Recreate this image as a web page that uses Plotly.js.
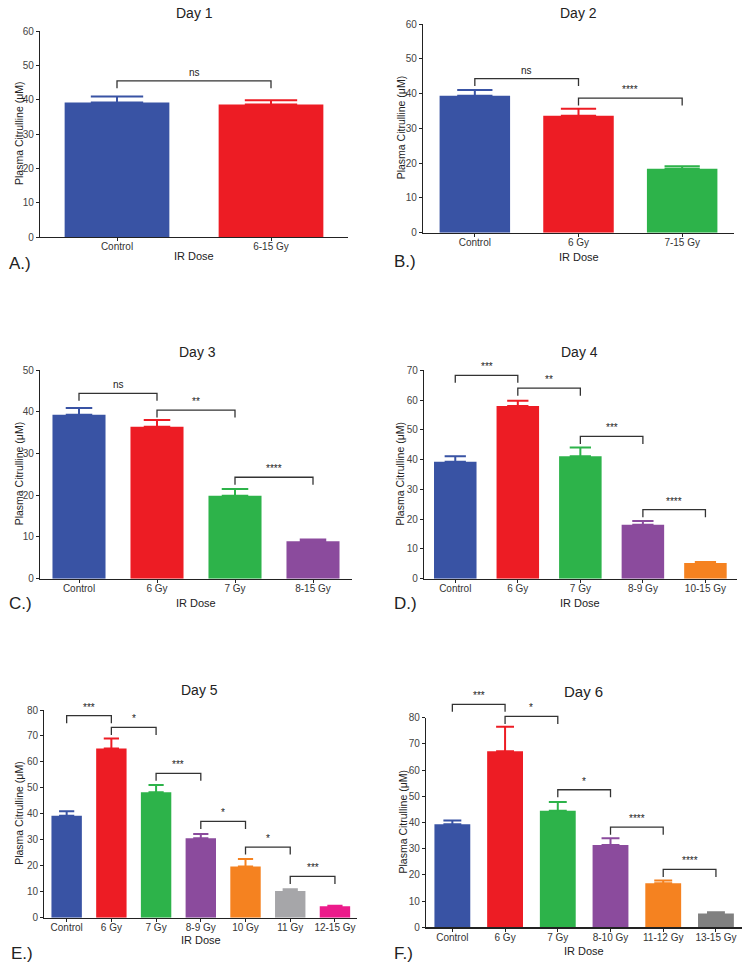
<!DOCTYPE html>
<html>
<head>
<meta charset="utf-8">
<script src="https://cdn.plot.ly/plotly-3.0.1.min.js"></script>
<style>
  html, body { margin: 0; padding: 0; background: #fff; }
  #chart { width: 751px; height: 969px; }
</style>
</head>
<body>
<div id="chart"></div>
<script>
// Data (mean and upper SEM, plasma citrulline in uM)
const day1Doses = ['Control', '6-15 Gy'];
const day1Means = [39.2, 38.6];
const day1Errs  = [1.7, 1.2];
const day1Pairs = [[0, 1]];
const day1Sig   = ['ns'];
const day1SigY  = [45.5];

const day2Doses = ['Control', '6 Gy', '7-15 Gy'];
const day2Means = [39.4, 33.6, 18.4];
const day2Errs  = [1.6, 2.0, 0.7];
const day2Pairs = [[0, 1], [1, 2]];
const day2Sig   = ['ns', '****'];
const day2SigY  = [44.3, 38.7];

const day3Doses = ['Control', '6 Gy', '7 Gy', '8-15 Gy'];
const day3Means = [39.3, 36.4, 19.9, 9.0];
const day3Errs  = [1.6, 1.6, 1.6, 0.4];
const day3Pairs = [[0, 1], [1, 2], [2, 3]];
const day3Sig   = ['ns', '**', '****'];
const day3SigY  = [44.4, 40.4, 24.3];

const day4Doses = ['Control', '6 Gy', '7 Gy', '8-9 Gy', '10-15 Gy'];
const day4Means = [39.3, 58.0, 41.1, 18.1, 5.3];
const day4Errs  = [1.8, 1.8, 3.0, 1.3, 0.3];
const day4Pairs = [[0, 1], [1, 2], [2, 3], [3, 4]];
const day4Sig   = ['***', '**', '***', '****'];
const day4SigY  = [68.3, 64.0, 47.8, 23.2];

const day5Doses = ['Control', '6 Gy', '7 Gy', '8-9 Gy', '10 Gy', '11 Gy', '12-15 Gy'];
const day5Means = [39.3, 65.2, 48.3, 30.6, 19.7, 10.3, 4.4];
const day5Errs  = [1.7, 3.8, 2.8, 1.6, 2.9, 0.7, 0.2];
const day5Pairs = [[0, 1], [1, 2], [2, 3], [3, 4], [4, 5], [5, 6]];
const day5Sig   = ['***', '*', '***', '*', '*', '***'];
const day5SigY  = [77.8, 73.3, 55.6, 37.1, 27.2, 15.9];

const day6Doses = ['Control', '6 Gy', '7 Gy', '8-10 Gy', '11-12 Gy', '13-15 Gy'];
const day6Means = [39.3, 67.2, 44.5, 31.4, 16.8, 5.3];
const day6Errs  = [1.5, 9.3, 3.3, 2.6, 1.1, 0.4];
const day6Pairs = [[0, 1], [1, 2], [2, 3], [3, 4], [4, 5]];
const day6Sig   = ['***', '*', '*', '****', '****'];
const day6SigY  = [85.1, 80.5, 52.5, 38.2, 22.1];

// Colours per dose group
const BLUE = '#3953a4', RED = '#ed1c24', GREEN = '#2db34a', PURPLE = '#8b4b9d',
      ORANGE = '#f58220', LIGHTGRAY = '#a6a6a9', PINK = '#ec1b8b', DARKGRAY = '#808080';

const W = 751, H = 969;
const FONT = 'Liberation Sans, Arial, sans-serif';

// Panel layout in page pixels
const panels = [
  { title: 'Day 1', letter: 'A.)', doses: day1Doses, means: day1Means, errs: day1Errs,
    pairs: day1Pairs, sig: day1Sig, sigY: day1SigY, ymax: 60,
    colors: [BLUE, RED],
    box: [40, 31, 348, 237], titleXY: [194, 13], xtY: 256, ytX: 19, letterXY: [7, 263] },
  { title: 'Day 2', letter: 'B.)', doses: day2Doses, means: day2Means, errs: day2Errs,
    pairs: day2Pairs, sig: day2Sig, sigY: day2SigY, ymax: 60,
    colors: [BLUE, RED, GREEN],
    box: [423, 24, 734, 232.7], titleXY: [578, 13], xtY: 257, ytX: 401, letterXY: [392, 262] },
  { title: 'Day 3', letter: 'C.)', doses: day3Doses, means: day3Means, errs: day3Errs,
    pairs: day3Pairs, sig: day3Sig, sigY: day3SigY, ymax: 50,
    colors: [BLUE, RED, GREEN, PURPLE],
    box: [40, 370, 352, 578.7], titleXY: [197, 352], xtY: 603, ytX: 19, letterXY: [7, 603] },
  { title: 'Day 4', letter: 'D.)', doses: day4Doses, means: day4Means, errs: day4Errs,
    pairs: day4Pairs, sig: day4Sig, sigY: day4SigY, ymax: 70,
    colors: [BLUE, RED, GREEN, PURPLE, ORANGE],
    box: [424, 370.3, 736.7, 578.7], titleXY: [579, 352], xtY: 603, ytX: 400, letterXY: [392, 603] },
  { title: 'Day 5', letter: 'E.)', doses: day5Doses, means: day5Means, errs: day5Errs,
    pairs: day5Pairs, sig: day5Sig, sigY: day5SigY, ymax: 80,
    colors: [BLUE, RED, GREEN, PURPLE, ORANGE, LIGHTGRAY, PINK],
    box: [44.3, 710, 357.3, 917.7], titleXY: [199, 690], xtY: 940, ytX: 19, letterXY: [9, 953] },
  { title: 'Day 6', letter: 'F.)', doses: day6Doses, means: day6Means, errs: day6Errs,
    pairs: day6Pairs, sig: day6Sig, sigY: day6SigY, ymax: 80,
    colors: [BLUE, RED, GREEN, PURPLE, ORANGE, DARKGRAY],
    box: [426, 717.7, 742.3, 927.3], titleXY: [583, 691], xtY: 951, ytX: 402, letterXY: [392, 953], titleSize: 15 }
];

const BAR_W = 0.68;      // bar width as a fraction of the category slot
const DROP_PX = 7.5;     // bracket leg length in pixels
const EXT_PX = 30;       // extra room above the plot for brackets

const traces = [];
const layout = {
  width: W, height: H,
  margin: { l: 0, r: 0, t: 0, b: 0 },
  paper_bgcolor: '#fff', plot_bgcolor: 'rgba(0,0,0,0)',
  showlegend: false,
  barmode: 'overlay',
  font: { family: FONT, color: '#222' },
  annotations: []
};

function sx(px) { return px / W; }
function sy(py) { return 1 - py / H; }

panels.forEach((p, k) => {
  const n = p.doses.length;
  const id = k + 1, bid = k + 7;
  const [x0, y0, x1, y1] = p.box;
  const plotW = x1 - x0, plotH = y1 - y0;
  const capHalf = BAR_W * plotW / n / 4;

  layout['xaxis' + id] = {
    domain: [sx(x0), sx(x1)], anchor: 'y' + id,
    type: 'category', categoryarray: p.doses, range: [-0.5, n - 0.5],
    showline: true, linecolor: '#222', linewidth: 1.2,
    ticks: 'outside', ticklen: 3, tickcolor: '#222',
    ticklabelstandoff: -3,
    tickfont: { size: 10, color: '#333', family: FONT },
    showgrid: false, zeroline: false, fixedrange: true
  };
  layout['yaxis' + id] = {
    domain: [sy(y1), sy(y0)], anchor: 'x' + id,
    range: [0, p.ymax], dtick: 10, tick0: 0,
    showline: true, linecolor: '#222', linewidth: 1.2,
    ticks: 'outside', ticklen: 3, tickcolor: '#222',
    tickfont: { size: 10, color: '#444', family: FONT },
    showgrid: false, zeroline: false, fixedrange: true
  };

  // invisible companion axes with identical scale but taller, so brackets are not clipped
  const topPx = Math.max(0, y0 - EXT_PX);
  layout['xaxis' + bid] = {
    domain: [sx(x0), sx(x1)], anchor: 'y' + bid,
    type: 'category', categoryarray: p.doses, range: [-0.5, n - 0.5],
    visible: false, fixedrange: true
  };
  layout['yaxis' + bid] = {
    domain: [sy(y1), sy(topPx)], anchor: 'x' + bid,
    range: [0, p.ymax * (y1 - topPx) / plotH],
    visible: false, fixedrange: true
  };

  p.doses.forEach((d, i) => {
    traces.push({
      type: 'bar', x: [d], y: [p.means[i]], width: BAR_W,
      xaxis: 'x' + id, yaxis: 'y' + id,
      marker: { color: p.colors[i], line: { width: 0 } },
      error_y: { type: 'data', symmetric: false, array: [p.errs[i]], arrayminus: [0],
                 color: p.colors[i], thickness: 2, width: capHalf },
      hoverinfo: 'skip'
    });
  });

  const drop = DROP_PX * p.ymax / plotH;
  p.pairs.forEach(([a, b], j) => {
    const top = p.sigY[j];
    traces.push({
      type: 'scatter', mode: 'lines',
      x: [p.doses[a], p.doses[a], p.doses[b], p.doses[b]],
      y: [top - drop, top, top, top - drop],
      xaxis: 'x' + bid, yaxis: 'y' + bid,
      line: { color: '#333', width: 1.3 },
      hoverinfo: 'skip'
    });
    layout.annotations.push({
      xref: 'x' + bid, yref: 'y' + bid, x: (a + b) / 2, y: top,
      text: p.sig[j], showarrow: false, yanchor: 'bottom', yshift: 1,
      font: { size: 10, color: '#222', family: FONT }
    });
  });

  // panel title, axis titles and letter
  layout.annotations.push(
    { xref: 'paper', yref: 'paper', x: sx(p.titleXY[0]), y: sy(p.titleXY[1]),
      text: p.title, showarrow: false, xanchor: 'center', yanchor: 'middle',
      font: { size: p.titleSize || 14, color: '#222', family: FONT } },
    { xref: 'paper', yref: 'paper', x: sx((x0 + x1) / 2), y: sy(p.xtY),
      text: 'IR Dose', showarrow: false, xanchor: 'center', yanchor: 'middle',
      font: { size: 11, color: '#222', family: FONT } },
    { xref: 'paper', yref: 'paper', x: sx(p.ytX), y: sy((y0 + y1) / 2),
      text: 'Plasma Citrulline (μM)', showarrow: false, textangle: -90,
      xanchor: 'center', yanchor: 'middle',
      font: { size: 10.5, color: '#222', family: FONT } },
    { xref: 'paper', yref: 'paper', x: sx(p.letterXY[0]), y: sy(p.letterXY[1]),
      text: p.letter, showarrow: false, xanchor: 'left', yanchor: 'middle',
      font: { size: 17, color: '#222', family: FONT } }
  );
});

Plotly.newPlot('chart', traces, layout, { displayModeBar: false, staticPlot: true });
</script>
</body>
</html>
